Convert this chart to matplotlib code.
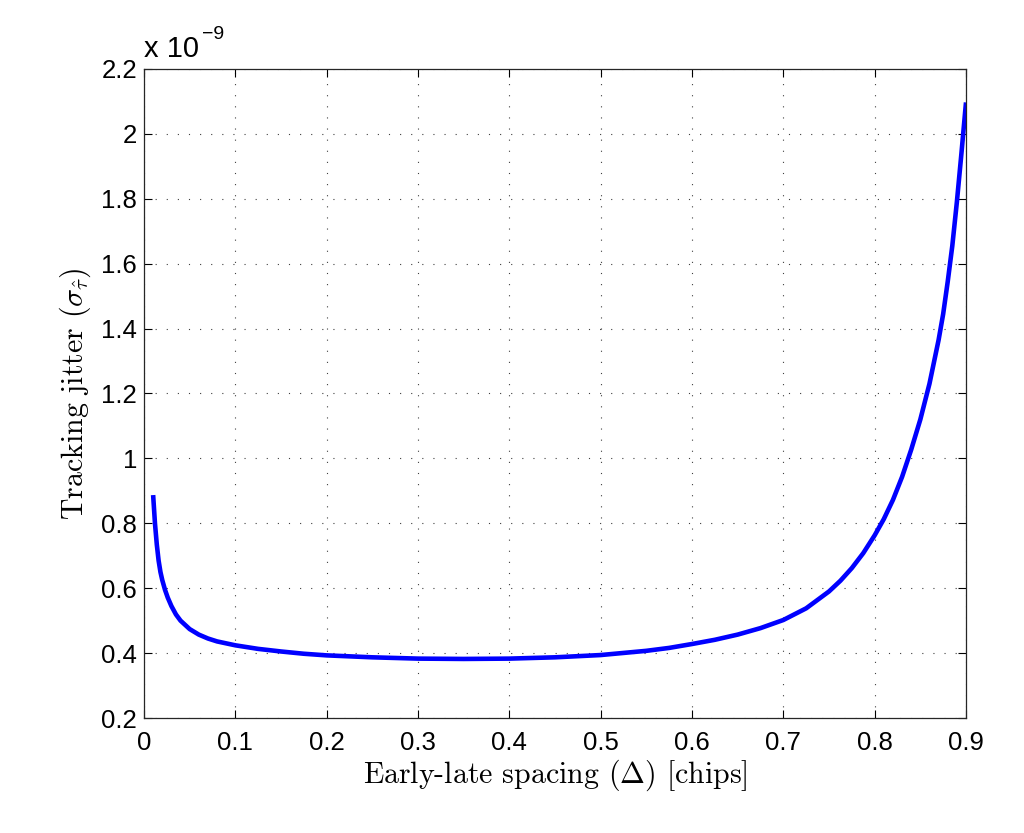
import matplotlib
matplotlib.use("Agg")
import matplotlib.pyplot as plt
from matplotlib.ticker import FuncFormatter

# Data (jitter in units of 1e-9)
spacing = [0.01, 0.012, 0.014, 0.016, 0.018, 0.02, 0.023, 0.026, 0.03, 0.035,
           0.04, 0.05, 0.06, 0.07, 0.08, 0.1, 0.125, 0.15, 0.175, 0.2,
           0.25, 0.3, 0.35, 0.4, 0.45, 0.5, 0.55, 0.575, 0.6, 0.625,
           0.65, 0.675, 0.7, 0.725, 0.75, 0.7625, 0.775, 0.7875, 0.8, 0.81,
           0.82, 0.83, 0.84, 0.85, 0.86, 0.87, 0.875, 0.88, 0.885, 0.89,
           0.895, 0.9]
jitter_e9 = [0.887, 0.80, 0.735, 0.685, 0.65, 0.625, 0.595, 0.571, 0.545, 0.519,
             0.50, 0.474, 0.457, 0.445, 0.436, 0.424, 0.413, 0.405, 0.398, 0.393,
             0.387, 0.383, 0.382, 0.383, 0.387, 0.394, 0.407, 0.416, 0.428, 0.441,
             0.457, 0.477, 0.502, 0.538, 0.590, 0.623, 0.662, 0.708, 0.763, 0.813,
             0.872, 0.943, 1.027, 1.12, 1.23, 1.365, 1.445, 1.545, 1.655, 1.79,
             1.94, 2.097]
xticks = [0, 0.1, 0.2, 0.3, 0.4, 0.5, 0.6, 0.7, 0.8, 0.9]
yticks = [0.2, 0.4, 0.6, 0.8, 1.0, 1.2, 1.4, 1.6, 1.8, 2.0, 2.2]

plt.rcParams['mathtext.fontset'] = 'cm'
plt.rcParams['font.family'] = ['Liberation Sans', 'DejaVu Sans']

fig = plt.figure(figsize=(10.24, 8.33), dpi=100)
ax = fig.add_axes([144/1024, 1 - 718/833, (966-144)/1024, (718-69)/833])

ax.plot(spacing, jitter_e9, color=(0, 0, 1), linewidth=3.3,
        solid_capstyle='butt', solid_joinstyle='round')

ax.set_xlim(0, 0.9)
ax.set_ylim(0.2, 2.2)
ax.set_xticks(xticks)
ax.set_yticks(yticks)
fmt = FuncFormatter(lambda v, p: '%g' % round(v, 3))
ax.xaxis.set_major_formatter(fmt)
ax.yaxis.set_major_formatter(fmt)

ax.grid(True, linestyle=(0, (1, 9)), color='#404040', linewidth=0.8)
ax.tick_params(direction='in', length=6, width=0.8, top=True, right=True,
               labelsize=18.5, colors='black')
ax.tick_params(axis='x', pad=9)
ax.tick_params(axis='y', pad=5)
for s in ax.spines.values():
    s.set_linewidth(0.9)
    s.set_color('#262626')

ax.set_xlabel(r'Early-late spacing $(\Delta)$ [chips]', family='cmr10',
              fontsize=21.5, labelpad=2)
ax.set_ylabel(r'Tracking jitter $(\sigma_{\hat{\tau}})$', family='cmr10',
              fontsize=21.5, labelpad=6)

fig.text(144/1024, 1 - 57/833, 'x 10', fontsize=21, ha='left', va='baseline')
fig.text(202/1024, 1 - 39/833, '\u22129', fontsize=14, ha='left', va='baseline')

fig.savefig('out.png', dpi=100)
